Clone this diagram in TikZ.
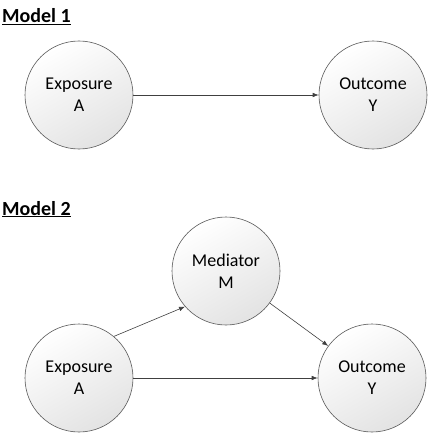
\documentclass[tikz,border=0pt]{standalone}
\usepackage{fontspec}
\setmainfont{Carlito}
\usetikzlibrary{arrows.meta}

\begin{document}
\begin{tikzpicture}[x=1pt,y=-1pt,
    var/.style={circle,draw=black!65,line width=0.6pt,minimum size=108pt,inner sep=0pt,
      top color=white,bottom color=black!11,shading angle=30,
      align=center,font=\fontsize{18}{22}\selectfont},
    link/.style={draw=black!75,line width=0.6pt,-{Latex[length=6pt,width=4.5pt]}},
    title/.style={anchor=base west,inner sep=0pt,font=\fontsize{20}{24}\selectfont\bfseries}]
    \useasboundingbox (0,0) rectangle (429,436);
    % Titles
    \node[title] (t1) at (2,23) {\underline{Model 1}};
    \node[title] (t2) at (2,215) {\underline{Model 2}};
    % Model 1
    \node[var] (a1) at (79,95) {Exposure\\A};
    \node[var] (y1) at (373,95) {Outcome\\Y};
    \draw[link] (a1) -- (y1);
    % Model 2
    \node[var] (m2) at (226,271) {Mediator\\M};
    \node[var] (a2) at (79,378) {Exposure\\A};
    \node[var] (y2) at (372,378) {Outcome\\Y};
    \draw[link] (a2.50) -- (m2.221);
    \draw[link] (m2) -- (y2);
    \draw[link] (a2) -- (y2);
\end{tikzpicture}
\end{document}
